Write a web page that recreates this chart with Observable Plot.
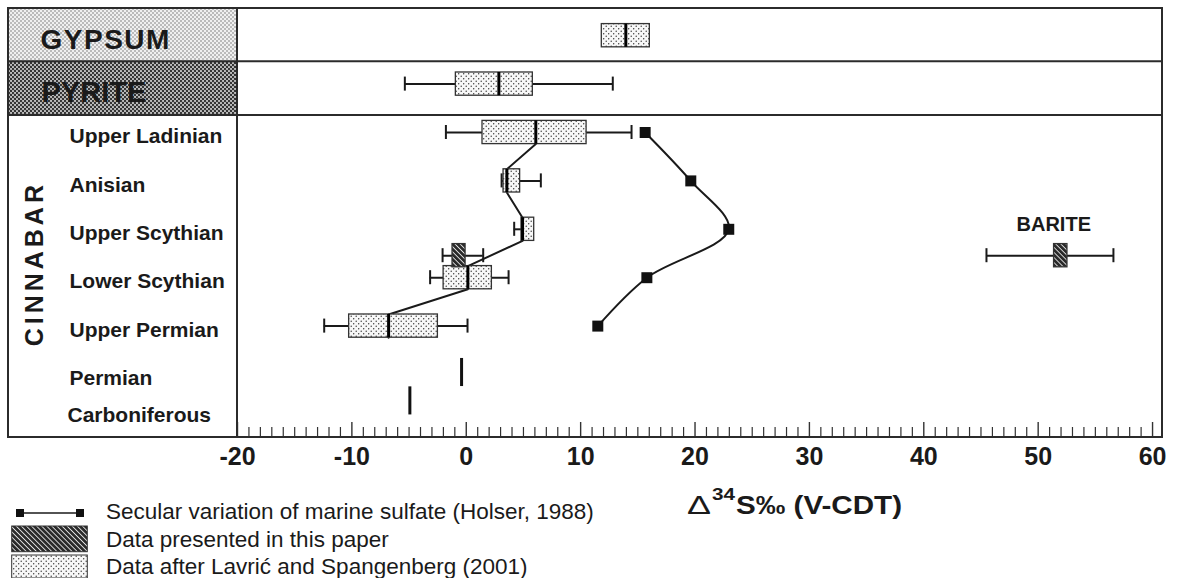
<!DOCTYPE html>
<html><head><meta charset="utf-8">
<script src="https://cdn.jsdelivr.net/npm/d3@7"></script>
<script src="https://cdn.jsdelivr.net/npm/@observablehq/plot@0.6"></script>
<style>
body{margin:0;background:#fff;font-family:"Liberation Sans",Arial,sans-serif;}
#wrap{position:relative;width:1177px;height:578px;overflow:hidden;background:#fff;}
#chart svg{display:block;}
#legend{display:block;}
</style></head><body>
<svg width="0" height="0" style="position:absolute">
<defs>
<pattern id="lav" patternUnits="userSpaceOnUse" width="5" height="5">
  <rect width="5" height="5" fill="#f7f7f7"/>
  <circle cx="1.2" cy="1.2" r="0.7" fill="#333"/>
  <circle cx="3.7" cy="3.7" r="0.7" fill="#333"/>
</pattern>
<pattern id="paper" patternUnits="userSpaceOnUse" width="3.6" height="3.6" patternTransform="rotate(-45)">
  <rect width="3.6" height="3.6" fill="#2a2a2a"/>
  <rect x="0" width="0.9" height="3.6" fill="#e0e0e0"/>
</pattern>
<pattern id="gyp" patternUnits="userSpaceOnUse" width="4" height="4">
  <rect width="4" height="4" fill="#f0f0f0"/>
  <circle cx="1" cy="1" r="0.8" fill="#777"/>
  <circle cx="3" cy="3" r="0.8" fill="#777"/>
</pattern>
<pattern id="pyr" patternUnits="userSpaceOnUse" width="4" height="4">
  <rect width="4" height="4" fill="#bdbdbd"/>
  <circle cx="1" cy="1" r="1.15" fill="#2e2e2e"/>
  <circle cx="3" cy="3" r="1.15" fill="#2e2e2e"/>
</pattern>
</defs></svg>
<div id="wrap">
  <div id="chart"></div>
  <svg id="legend" width="1177" height="98" font-family="'Liberation Sans', Arial, sans-serif" fill="#1a1a1a">
    <text x="687" y="34" font-size="26" textLength="24" lengthAdjust="spacingAndGlyphs">Δ</text>
    <text x="712" y="20" font-size="17" font-weight="bold" textLength="23" lengthAdjust="spacingAndGlyphs">34</text>
    <text x="736" y="34" font-size="25" font-weight="bold" textLength="166" lengthAdjust="spacingAndGlyphs">S‰ (V-CDT)</text>

    <line x1="20" x2="80" y1="33" y2="33" stroke="#1a1a1a" stroke-width="1.6"/>
    <rect x="16" y="29" width="8" height="8" fill="#111"/>
    <rect x="76" y="29" width="8" height="8" fill="#111"/>
    <text x="106" y="39" font-size="22.5">Secular variation of marine sulfate (Holser, 1988)</text>

    <rect x="11.7" y="46" width="75.6" height="25.7" fill="url(#paper)" stroke="#333" stroke-width="1"/>
    <text x="106" y="67" font-size="22.5">Data presented in this paper</text>

    <rect x="11.7" y="75" width="75.6" height="23" fill="url(#lav)" stroke="#333" stroke-width="1"/>
    <text x="106" y="94" font-size="22.5">Data after Lavrić and Spangenberg (2001)</text>
  </svg>
</div>
<script>
// ---------- data ----------
const rows = ["GYPSUM", "PYRITE", "Upper Ladinian", "Anisian", "Upper Scythian", "Lower Scythian", "Upper Permian", "Permian", "Carboniferous"];
const mineralRows = ["GYPSUM", "PYRITE"];
const cinnabarRows = ["Upper Ladinian", "Anisian", "Upper Scythian", "Lower Scythian", "Upper Permian", "Permian", "Carboniferous"];

// Data after Lavrič and Spangenberg (2001): box plots (min, q1, median, q3, max)
const lavricRows   = ["GYPSUM", "PYRITE", "Upper Ladinian", "Anisian", "Upper Scythian", "Lower Scythian", "Upper Permian"];
const lavricMin    = [11.85, -5.37, -1.78, 3.09, 4.19, -3.16, -12.42];
const lavricQ1     = [11.85, -0.91,  1.42, 3.26, 4.83, -1.98, -10.24];
const lavricMedian = [13.95,  2.85,  6.08, 3.55, 4.92,  0.14,  -6.79];
const lavricQ3     = [16.05,  5.82, 10.52, 4.71, 5.94,  2.24,  -2.48];
const lavricMax    = [16.05, 12.81, 14.45, 6.52, 5.94,  3.70,   0.11];

// Data presented in this paper
const paperRows    = ["Lower Scythian", "Lower Scythian"];
const paperMineral = ["Cinnabar", "Barite"];
const paperMin     = [-2.07, 45.48];
const paperQ1      = [-1.20, 51.39];
const paperQ3      = [-0.06, 52.56];
const paperMax     = [ 1.48, 56.58];

// single values
const singleRows   = ["Permian", "Carboniferous"];
const singleValues = [-0.41, -4.93];

// Secular variation of marine sulfate (Holser, 1988)
const holserRows   = ["Upper Ladinian", "Anisian", "Upper Scythian", "Lower Scythian", "Upper Permian"];
const holserValues = [15.64, 19.63, 22.95, 15.79, 11.50];

const xTicks = [-20, -10, 0, 10, 20, 30, 40, 50, 60];

// ---------- build tables ----------
const ri = (r) => rows.indexOf(r);
const lavric = lavricRows.map((row, i) => ({row, min: lavricMin[i], q1: lavricQ1[i], median: lavricMedian[i], q3: lavricQ3[i], max: lavricMax[i]}));
const paper = paperRows.map((row, i) => ({row, mineral: paperMineral[i], min: paperMin[i], q1: paperQ1[i], q3: paperQ3[i], max: paperMax[i]}));
const singles = singleRows.map((row, i) => ({row, value: singleValues[i]}));
const holser = holserRows.map((row, i) => ({row, value: holserValues[i]}));
const minorTicks = d3.range(xTicks[0], xTicks[xTicks.length - 1] + 1).filter(v => !xTicks.includes(v));

// ---------- styles ----------
const H = 0.24, CAP = 0.145, TH = 0.29;
const ink = "#1a1a1a";
const layout = {left: 8, sep1: 61.3, sep2: 115};
const letterSpacing = {GYPSUM: "1.5px", CINNABAR: "4px"};

const connector = lavric.filter(d => cinnabarRows.includes(d.row))
  .flatMap(d => [{x: d.median, y: ri(d.row) - H}, {x: d.median, y: ri(d.row) + H}]);

function boxMarks(data, fill, opts = {}) {
  const y = d => ri(d.row);
  return [
    Plot.ruleY(data, {y, x1: "min", x2: "max", stroke: ink, strokeWidth: 2, ...opts}),
    Plot.ruleX(data.filter(d => d.min < d.q1), {x: "min", y1: d => y(d) - CAP, y2: d => y(d) + CAP, stroke: ink, strokeWidth: 2, ...opts}),
    Plot.ruleX(data.filter(d => d.max > d.q3), {x: "max", y1: d => y(d) - CAP, y2: d => y(d) + CAP, stroke: ink, strokeWidth: 2, ...opts}),
    Plot.rect(data, {x1: "q1", x2: "q3", y1: d => y(d) - H, y2: d => y(d) + H, fill, stroke: "#333", strokeWidth: 1.3, ...opts})
  ];
}

const cells = (index, scales, values, dims) => {
  const g = d3.create("svg:g");
  const xd = dims.marginLeft, y0 = dims.marginTop;
  g.append("rect").attr("x", layout.left).attr("y", y0).attr("width", xd - layout.left).attr("height", layout.sep1 - y0).attr("fill", "url(#gyp)");
  g.append("rect").attr("x", layout.left).attr("y", layout.sep1).attr("width", xd - layout.left).attr("height", layout.sep2 - layout.sep1).attr("fill", "url(#pyr)");
  return g.node();
};
const frame = (index, scales, values, dims) => {
  const g = d3.create("svg:g").attr("fill", "none").attr("stroke", "#2b2b2b").attr("stroke-width", 2);
  const xd = dims.marginLeft, x1 = dims.width - dims.marginRight, y0 = dims.marginTop, y1 = dims.height - dims.marginBottom;
  g.append("rect").attr("x", layout.left).attr("y", y0).attr("width", x1 - layout.left).attr("height", y1 - y0);
  g.append("line").attr("x1", xd).attr("x2", xd).attr("y1", y0).attr("y2", y1);
  g.append("line").attr("x1", layout.left).attr("x2", x1).attr("y1", layout.sep1).attr("y2", layout.sep1);
  g.append("line").attr("x1", layout.left).attr("x2", x1).attr("y1", layout.sep2).attr("y2", layout.sep2);
  return g.node();
};

const frameH = 480 - 43 - 8;

const chart = Plot.plot({
  width: 1177, height: 480,
  marginLeft: 237, marginRight: 15, marginTop: 8, marginBottom: 43,
  x: {domain: [-20, 60.87]},
  y: {domain: [-0.5, 8.5], range: [11, 446.6], axis: null},
  style: {fontFamily: "'Liberation Sans', Arial, sans-serif", color: ink, background: "white", overflow: "visible"},
  marks: [
    cells,
    // connecting line between cinnabar medians
    Plot.line(connector, {x: "x", y: "y", stroke: ink, strokeWidth: 2}),
    // Holser curve
    Plot.line(holser, {x: "value", y: d => ri(d.row), curve: "catmull-rom", stroke: ink, strokeWidth: 2}),
    ...boxMarks(lavric, "url(#lav)"),
    Plot.ruleX(lavric, {x: "median", y1: d => ri(d.row) - H, y2: d => ri(d.row) + H, stroke: "#000", strokeWidth: 3}),
    ...boxMarks(paper, "url(#paper)", {dy: -22}),
    Plot.text(paper.filter(d => d.mineral === "Barite"), {x: d => (d.q1 + d.q3) / 2, y: d => ri(d.row), text: d => d.mineral.toUpperCase(), dy: -53, dx: -7, fontSize: 20, fontWeight: "bold", fill: ink}),
    Plot.dot(holser, {x: "value", y: d => ri(d.row), symbol: "square", r: 6.2, fill: "#111", stroke: null}),
    Plot.ruleX(singles.filter(d => d.row === "Permian"), {x: "value", y1: d => ri(d.row) - TH, y2: d => ri(d.row) + TH, dy: -2, stroke: "#111", strokeWidth: 3}),
    Plot.ruleX(singles.filter(d => d.row === "Carboniferous"), {x: "value", y1: d => ri(d.row) - TH, y2: d => ri(d.row) + TH, dy: -22, stroke: "#111", strokeWidth: 3}),
    // left column labels
    Plot.text(["GYPSUM"], {y: d => ri(d), text: d => d, frameAnchor: "left", dx: -197, dy: 4, textAnchor: "start", fontSize: 28, fontWeight: "bold", fill: ink}),
    Plot.text(["PYRITE"], {y: d => ri(d), text: d => d, frameAnchor: "left", dx: -196, dy: 9, textAnchor: "start", fontSize: 29, fontWeight: "bold", fill: ink}),
    Plot.text(cinnabarRows.filter(r => r !== "Carboniferous"), {y: d => ri(d), text: d => d, frameAnchor: "left", dx: -168, dy: 4, textAnchor: "start", fontSize: 21, fontWeight: "bold", fill: ink}),
    Plot.text(["Carboniferous"], {y: d => ri(d), text: d => d, frameAnchor: "left", dx: -170, dy: -8, textAnchor: "start", fontSize: 21, fontWeight: "bold", fill: ink}),
    Plot.text(["CINNABAR"], {y: () => ri(cinnabarRows[3]), text: d => d, frameAnchor: "left", dx: -203, dy: -14, rotate: -90, textAnchor: "middle", fontSize: 25, fontWeight: "bold", fill: ink}),
    // x axis ticks (inward) and labels
    Plot.ruleX(minorTicks, {x: d => d, insetTop: frameH - 10, stroke: "#333", strokeWidth: 1.2}),
    Plot.ruleX(xTicks, {x: d => d, insetTop: frameH - 15, stroke: "#333", strokeWidth: 1.4}),
    Plot.axisX({ticks: xTicks, tickSize: 0, tickPadding: 9.5, tickFormat: d => String(d), fontSize: 25, fontWeight: "bold", label: null, fill: ink}),
    frame
  ]
});
d3.select(chart).selectAll("text")
  .filter(function () { return letterSpacing[this.textContent] != null; })
  .attr("letter-spacing", function () { return letterSpacing[this.textContent]; });
document.getElementById("chart").appendChild(chart);
</script>
</body></html>
